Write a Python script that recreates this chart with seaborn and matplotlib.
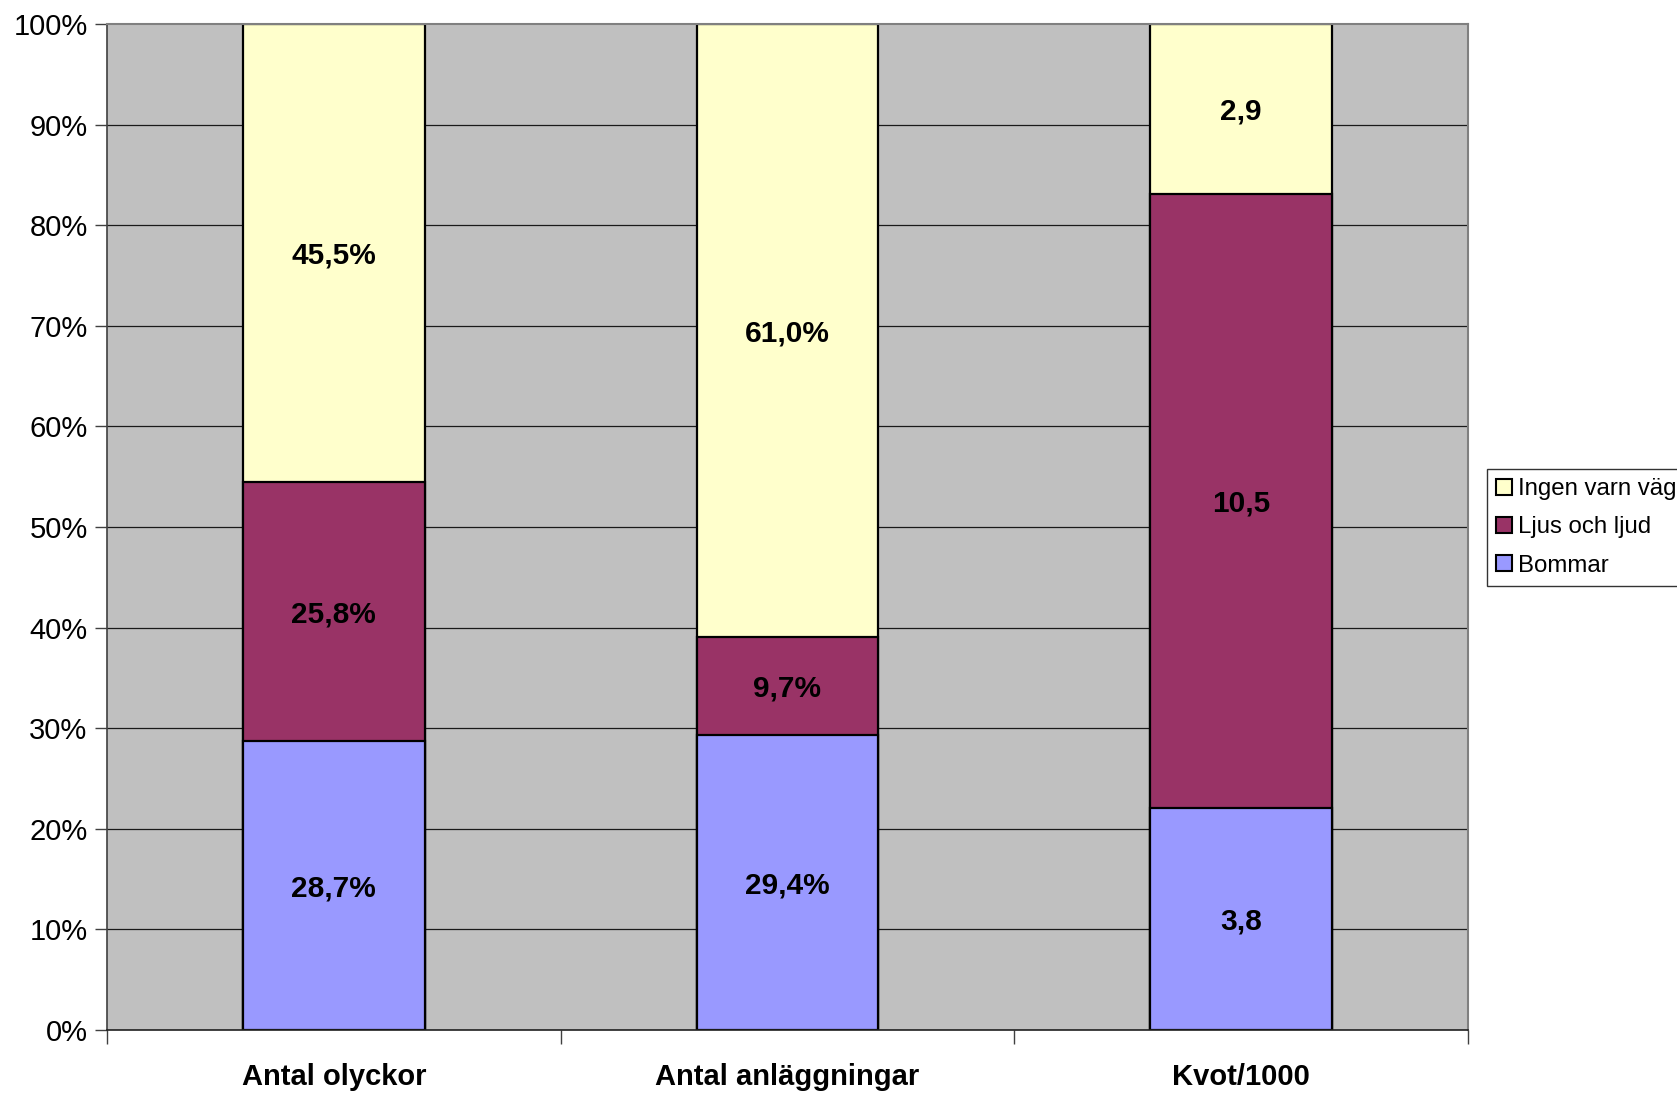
import matplotlib
matplotlib.use("Agg")
import matplotlib.pyplot as plt
import matplotlib.patches as mpatches
from matplotlib.ticker import FixedLocator
import numpy as np
import pandas as pd
import seaborn as sns

categories = ["Antal olyckor", "Antal anläggningar", "Kvot/1000"]
bommar = [28.7, 29.4, 3.8]
ljus_och_ljud = [25.8, 9.7, 10.5]
ingen_varn_vag = [45.5, 61.0, 2.9]
is_percent = [True, True, False]
series_names = ["Ingen varn väg", "Ljus och ljud", "Bommar"]
y_ticks = [0, 10, 20, 30, 40, 50, 60, 70, 80, 90, 100]
y_tick_labels = ["0%", "10%", "20%", "30%", "40%", "50%", "60%", "70%", "80%", "90%", "100%"]

colors = {"Ingen varn väg": "#FFFFCC", "Ljus och ljud": "#993366", "Bommar": "#9999FF"}

sns.set_style("white")
plt.rcParams["font.family"] = ["Liberation Sans", "DejaVu Sans"]
plt.rcParams["text.color"] = "black"
plt.rcParams["xtick.labelcolor"] = "black"
plt.rcParams["ytick.labelcolor"] = "black"

b = np.array(bommar)
l = np.array(ljus_och_ljud)
g = np.array(ingen_varn_vag)
tot = b + l + g
pb = b / tot * 100
pl = l / tot * 100
pg = g / tot * 100

df = pd.DataFrame({
    "cat": categories,
    "top": pb + pl + pg,
    "mid": pb + pl,
    "bot": pb,
})

fig = plt.figure(figsize=(16.77, 10.93), dpi=100)
ax = fig.add_axes([107 / 1677, 1 - 1030 / 1093, (1468 - 107) / 1677, (1030 - 24) / 1093])
ax.set_facecolor("#C0C0C0")

for yv in y_ticks[1:-1]:
    ax.axhline(yv, color="#1a1a1a", lw=0.9, zorder=0.5)

for col, name in [("top", "Ingen varn väg"), ("mid", "Ljus och ljud"), ("bot", "Bommar")]:
    sns.barplot(data=df, x="cat", y=col, color=colors[name], saturation=1,
                edgecolor="black", linewidth=1.6, width=0.4, errorbar=None,
                ax=ax, zorder=2)

# labels
for i in range(len(categories)):
    segs = [(0, pb[i], b[i]), (pb[i], pb[i] + pl[i], l[i]), (pb[i] + pl[i], 100, g[i])]
    for lo, hi, raw in segs:
        if is_percent[i]:
            txt = f"{raw:.1f}%".replace(".", ",")
        else:
            txt = f"{raw:.1f}".replace(".", ",")
        ax.text(i, (lo + hi) / 2, txt, ha="center", va="center_baseline",
                fontsize=21.5, fontweight="bold", color="black", zorder=5)

ax.set_xlim(-0.5, 2.5)
ax.set_ylim(0, 100)
ax.set_yticks(y_ticks)
ax.set_yticklabels(y_tick_labels, fontsize=21)
ax.tick_params(axis="y", direction="out", length=9, width=1, color="#404040", pad=5, left=True)
ax.set_xticks(range(len(categories)))
ax.set_xticklabels(categories, fontsize=21, fontweight="bold")
ax.tick_params(axis="x", which="major", length=0, pad=24)
ax.xaxis.set_minor_locator(FixedLocator([-0.5, 0.5, 1.5, 2.5]))
ax.tick_params(axis="x", which="minor", direction="out", length=10, width=1, color="#404040", bottom=True)
ax.set_xlabel("")
ax.set_ylabel("")

ax.spines["left"].set_color("#404040")
ax.spines["left"].set_linewidth(1.2)
ax.spines["bottom"].set_color("#202020")
ax.spines["bottom"].set_linewidth(1.2)
ax.spines["top"].set_color("#808080")
ax.spines["top"].set_linewidth(1.5)
ax.spines["right"].set_color("#808080")
ax.spines["right"].set_linewidth(1.5)
for s in ax.spines.values():
    s.set_visible(True)
    s.set_zorder(3)

handles = [mpatches.Patch(facecolor=colors[n], edgecolor="black", linewidth=1.5, label=n) for n in series_names]
leg = fig.legend(handles=handles, loc="upper left", bbox_to_anchor=(1487 / 1677, 1 - 469 / 1093),
                 fontsize=17.3, frameon=True, fancybox=False, edgecolor="black",
                 handlelength=0.64, handleheight=0.64, handletextpad=0.25,
                 labelspacing=0.68, borderpad=0.38, borderaxespad=0)
leg.get_frame().set_linewidth(1.0)

fig.savefig("out.png", dpi=100)
